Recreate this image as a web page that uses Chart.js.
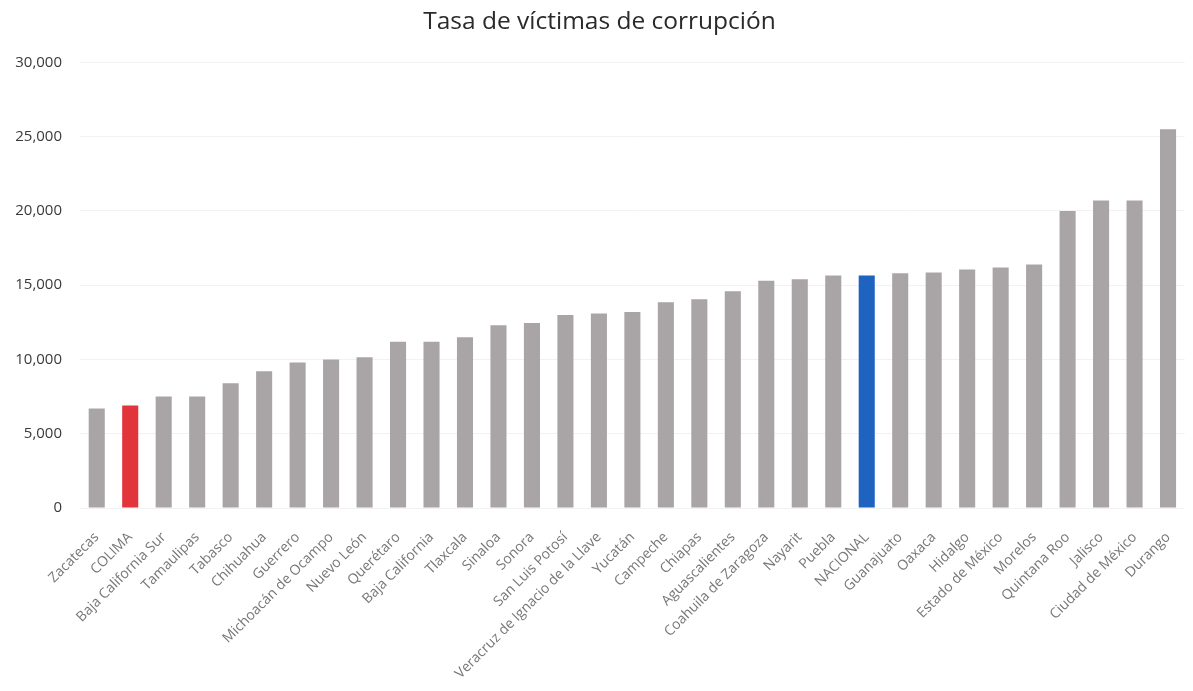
<!DOCTYPE html>
<html>
<head>
<meta charset="utf-8">
<script src="https://cdn.jsdelivr.net/npm/chart.js@4"></script>
<style>
  html, body { margin: 0; padding: 0; background: #fff; }
  #wrap { width: 1193px; height: 691px; position: relative; }
</style>
</head>
<body>
<div id="wrap"><canvas id="c" width="1193" height="691"></canvas></div>
<script>
const categories = ["Zacatecas","COLIMA","Baja California Sur","Tamaulipas","Tabasco","Chihuahua","Guerrero","Michoacán de Ocampo","Nuevo León","Querétaro","Baja California","Tlaxcala","Sinaloa","Sonora","San Luis Potosí","Veracruz de Ignacio de la Llave","Yucatán","Campeche","Chiapas","Aguascalientes","Coahuila de Zaragoza","Nayarit","Puebla","NACIONAL","Guanajuato","Oaxaca","Hidalgo","Estado de México","Morelos","Quintana Roo","Jalisco","Ciudad de México","Durango"];
const values = [6700,6900,7500,7500,8400,9200,9800,10000,10150,11200,11200,11500,12300,12450,13000,13100,13200,13850,14050,14600,15300,15400,15650,15650,15800,15850,16050,16200,16400,20000,20700,20700,25500];
const yTicks = [0,5000,10000,15000,20000,25000,30000];
const highlightRed = "COLIMA";
const highlightBlue = "NACIONAL";

const colors = categories.map(c => c === highlightRed ? "#E2343B" : (c === highlightBlue ? "#1F63C1" : "#A9A5A6"));

new Chart(document.getElementById("c"), {
  type: "bar",
  data: {
    labels: categories,
    datasets: [{ data: values, backgroundColor: colors, categoryPercentage: 1.0, barPercentage: 0.48 }]
  },
  options: {
    responsive: false,
    animation: false,
    layout: { padding: { left: 12, right: 6, top: 0, bottom: 0 } },
    plugins: {
      legend: { display: false },
      tooltip: { enabled: false },
      title: {
        display: true,
        text: "Tasa de víctimas de corrupción",
        color: "#2a2a2a",
        font: { family: "Open Sans", size: 24.5, weight: "normal" },
        padding: { top: 7, bottom: 26 }
      }
    },
    scales: {
      y: {
        min: 0, max: 30000,
        afterBuildTicks: axis => { axis.ticks = yTicks.map(v => ({ value: v })); },
        afterFit: axis => { axis.width = 68; },
        ticks: {
          color: "#3a3a3a",
          font: { family: "Open Sans", size: 15 },
          padding: 18,
          callback: v => v.toLocaleString("en-US")
        },
        grid: { color: "#f2f2f2", drawTicks: false },
        border: { display: false }
      },
      x: {
        afterFit: axis => { axis.height = 183; },
        ticks: {
          color: "#777777",
          font: { family: "Open Sans", size: 14 },
          maxRotation: 45, minRotation: 45,
          autoSkip: false,
          padding: 13
        },
        grid: { display: false },
        border: { display: false }
      }
    }
  }
});
</script>
</body>
</html>
